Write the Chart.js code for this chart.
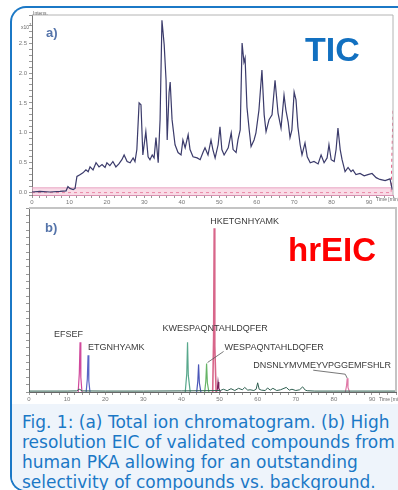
<!DOCTYPE html>
<html>
<head>
<meta charset="utf-8">
<title>TIC and hrEIC of human PKA</title>
<script src="https://cdn.jsdelivr.net/npm/chart.js@4.4.1/dist/chart.umd.min.js"></script>
<style>
  body { margin: 0; width: 398px; height: 490px; overflow: hidden; background: #fff; position: relative; font-family: 'Liberation Sans', Arial, sans-serif; }
  #frame { position: absolute; left: 10px; top: 6px; width: 400px; height: 486px; border: 2px solid #1b78c6; border-right: none; border-radius: 16px 0 0 16px; box-sizing: border-box; }
  #caption { position: absolute; left: 12px; top: 404px; width: 386px; height: 86px; background: #eef4fb; border-bottom-left-radius: 14px; }
  #caption p { position: absolute; margin: 0; left: 10px; top: 8px; font-family: 'DejaVu Sans', sans-serif; font-size: 17px; line-height: 20px; color: #1b78c6; white-space: nowrap; }
  canvas { position: absolute; left: 0; }
  #tic { top: 0; }
  #eic { top: 200px; }
  .tag { position: absolute; font-weight: bold; color: #5574aa; font-size: 13px; }
  .big { position: absolute; font-weight: bold; line-height: 1; }
  .tiny { position: absolute; font-size: 5px; color: #666; white-space: nowrap; }
</style>
</head>
<body>
<div id="frame"></div>
<div id="caption"><p>Fig. 1: (a) Total ion chromatogram. (b) High<br>resolution EIC of validated compounds from<br>human PKA allowing for an outstanding<br>selectivity of compounds vs. background.</p></div>

<canvas id="tic" width="398" height="205"></canvas>
<canvas id="eic" width="398" height="206"></canvas>

<div class="tag" style="left:46px; top:25px;">a)</div>
<div class="tag" style="left:45px; top:220px;">b)</div>
<div class="big" style="left:305px; top:32px; font-size:34px; color:#1270c0;">TIC</div>
<div class="big" style="left:288px; top:233px; font-size:33px; color:#ff0000;">hrEIC</div>
<div class="tiny" style="left:33px; top:10px;">Intens.</div>
<div class="tiny" style="left:21px; top:22px;">x10<sup>7</sup></div>
<div class="tiny" style="left:376px; top:196px;">Time [min]</div>
<div class="tiny" style="left:379px; top:396px;">Time [min]</div>

<script>
//TIC trace (a), intensity in x10^7
let ticTimes = [0, 2.1, 4.8, 7.5, 9.1, 9.6, 10.1, 11.0, 11.5, 12.0,
  12.8, 13.6, 14.4, 15.0, 15.5, 16.3, 17.1, 17.9, 18.7, 19.5,
  20.0, 20.8, 21.6, 22.4, 23.2, 24.0, 24.6, 25.4, 26.2, 27.0,
  27.5, 28.0, 28.6, 29.1, 29.6, 30.4, 31.0, 31.5, 32.1, 32.6,
  33.1, 33.7, 34.2, 34.7, 35.3, 35.8, 36.1, 36.6, 36.9, 37.4,
  38.2, 39.0, 39.8, 40.3, 40.9, 41.7, 42.2, 43.0, 44.1, 44.9,
  45.7, 46.2, 47.0, 47.8, 48.3, 48.9, 49.7, 50.2, 50.7, 51.3,
  52.4, 53.2, 53.7, 54.5, 55.0, 55.6, 56.1, 56.6, 56.9, 57.4,
  58.0, 58.5, 59.3, 59.8, 60.6, 61.4, 62.0, 62.5, 63.3, 64.1,
  64.9, 65.7, 66.5, 67.3, 67.8, 68.4, 68.9, 69.4, 70.0, 70.5,
  71.0, 71.6, 72.1, 72.9, 73.5, 74.3, 75.3, 76.4, 77.2, 78.0,
  78.8, 79.3, 79.9, 80.7, 81.2, 81.7, 82.3, 82.8, 83.6, 84.4,
  85.2, 85.7, 86.5, 87.6, 88.7, 89.7, 90.8, 91.9, 92.9, 94.3,
  95.6, 96.2];
let ticIntensity = [0.01, 0.02, 0.01, 0.02, 0.03, 0.10, 0.07, 0.05, 0.07, 0.27,
  0.30, 0.33, 0.38, 0.35, 0.43, 0.38, 0.50, 0.43, 0.47, 0.42,
  0.50, 0.45, 0.52, 0.43, 0.48, 0.55, 0.63, 0.52, 0.50, 0.58,
  0.52, 0.72, 1.50, 1.47, 0.63, 1.02, 0.60, 0.55, 0.63, 0.58,
  0.92, 0.50, 1.22, 2.88, 2.47, 1.88, 0.88, 1.67, 1.85, 1.22,
  0.80, 0.67, 0.63, 0.88, 0.75, 0.97, 0.72, 0.60, 0.58, 0.55,
  0.68, 0.75, 0.63, 0.88, 0.72, 0.58, 0.80, 1.10, 0.72, 0.63,
  0.75, 1.00, 0.72, 0.67, 0.88, 1.05, 2.50, 2.18, 2.25, 1.43,
  1.05, 0.77, 0.88, 1.00, 1.38, 2.05, 1.30, 1.02, 1.22, 1.30,
  1.88, 1.33, 1.08, 1.63, 1.38, 1.18, 0.92, 1.05, 1.68, 1.55,
  1.10, 0.80, 0.63, 0.83, 0.60, 0.50, 0.52, 0.48, 0.63, 0.50,
  0.58, 0.80, 0.55, 0.52, 0.72, 1.08, 0.72, 0.55, 0.35, 0.42,
  0.35, 0.38, 0.30, 0.32, 0.28, 0.30, 0.32, 0.25, 0.22, 0.20,
  0.23, 0.05];

//second (red) trace of panel a
let refTimes = [0, 95.9, 96.4];
let refIntensity = [0, 0, 1.4];
let bandLevel = 0.08;

//hrEIC peaks (b), relative intensity
let peptides = ['EFSEF', 'ETGNHYAMK', 'KWESPAQNTAHLDQFER', '', 'WESPAQNTAHLDQFER', 'HKETGNHYAMK', '', 'DNSNLYMVMEYVPGGEMFSHLR'];
let peakTimes = [
  [12.9, 13.2, 13.4, 13.6, 13.9],
  [15.0, 15.3, 15.5, 15.7, 16.0],
  [41.0, 41.4, 41.6, 41.8, 42.3],
  [44.0, 44.3, 44.5, 44.7, 45.1],
  [46.1, 46.4, 46.6, 46.8, 47.2],
  [48.2, 48.45, 48.6, 48.75, 49.1],
  [49.2, 49.45, 49.6, 49.8, 50.2],
  [83.0, 83.3, 83.5, 83.7, 84.1]
];
let peakHeights = [
  [0, 10, 27, 8, 0],
  [0, 7, 20, 6, 0],
  [0, 10, 27, 9, 0],
  [0, 6, 15, 5, 0],
  [0, 6, 15.5, 5, 0],
  [0, 30, 89, 25, 0],
  [0, 2, 5.5, 2, 0],
  [0, 3, 7.5, 2.5, 0]
];
let baseTimes = [0, 10, 12.5, 13.2, 14, 20, 30, 40, 50.2, 51, 52, 53, 54, 55, 56, 56.6, 57.4, 58, 59, 59.6, 60, 60.4, 61, 62, 62.6, 63.3, 64, 65, 66, 67.5, 68.3, 69, 70, 71, 71.8, 72.5, 73, 75, 80, 90, 96.3];
let baseHeights = [0.5, 0.5, 0.6, 1.5, 0.6, 0.5, 0.5, 0.6, 0.8, 1.5, 0.7, 1.8, 0.8, 2.0, 1.2, 2.5, 1.0, 1.2, 0.8, 1.5, 5.0, 1.5, 1.0, 0.8, 2.2, 1.0, 2.0, 0.8, 1.2, 2.5, 1.0, 1.5, 0.8, 1.2, 2.8, 1.0, 0.7, 0.5, 0.5, 0.5, 0.5];

//styles kept apart from the data
let peakColors = ['#d0489c', '#5a66c6', '#58a88c', '#4a56b8', '#66b466', '#d8668a', '#7a1f5a', '#e07aa8'];
let labelOffsets = [[-26, -8], [0, -8], [-25, -14], null, [18, -16], [-4, -7], null, [-94, -13]];
let leaderLines = [null, null, null, null, [[1, -1], [17, -12]], null, null, [[-34, -8], [-2, -4], [0, 0]]];

function toPoints(xs, ys) {
  let pts = [];
  for (let i = 0; i < xs.length; i++) {
    pts.push({ x: xs[i], y: ys[i] });
  }
  return pts;
}

function tickEvery(step) {
  return function (v) {
    let r = Math.round(v / step);
    return Math.abs(v / step - r) < 0.001 ? String(v) : '';
  };
}

//gray frame on top/right of the plot area
let panelFrame = {
  id: 'panelFrame',
  afterDraw(chart, args, opts) {
    let a = chart.chartArea;
    let c = chart.ctx;
    c.save();
    c.strokeStyle = opts.color;
    c.lineWidth = opts.width;
    c.beginPath();
    c.moveTo(a.left, a.top);
    c.lineTo(a.right, a.top);
    c.lineTo(a.right, a.bottom);
    c.stroke();
    c.restore();
  }
};

//peptide names next to their peaks
let peakLabels = {
  id: 'peakLabels',
  afterDatasetsDraw(chart) {
    let c = chart.ctx;
    let xs = chart.scales.x;
    let ys = chart.scales.y;
    c.save();
    c.font = '9px "Liberation Sans", Arial, sans-serif';
    c.fillStyle = '#3a3a3a';
    c.textBaseline = 'middle';
    c.strokeStyle = '#555';
    c.lineWidth = 0.8;
    for (let i = 0; i < peptides.length; i++) {
      let top = peakHeights[i].indexOf(Math.max(...peakHeights[i]));
      let px = xs.getPixelForValue(peakTimes[i][top]);
      let py = ys.getPixelForValue(peakHeights[i][top]);
      if (labelOffsets[i]) {
        c.fillText(peptides[i], px + labelOffsets[i][0], py + labelOffsets[i][1]);
      }
      if (leaderLines[i]) {
        c.beginPath();
        leaderLines[i].forEach(function (p, k) {
          if (k === 0) c.moveTo(px + p[0], py + p[1]);
          else c.lineTo(px + p[0], py + p[1]);
        });
        c.stroke();
      }
    }
    c.restore();
  }
};

let tinyFont = { size: 6, family: 'Liberation Sans' };

//Panel a
new Chart(document.getElementById('tic'), {
  type: 'line',
  data: {
    datasets: [
      { data: toPoints(ticTimes, ticIntensity), borderColor: '#3b3b6b', borderWidth: 1.2, pointRadius: 0 },
      { data: toPoints([0, 96.4], [bandLevel, bandLevel]), borderColor: '#eaa6c4', backgroundColor: 'rgba(244,186,208,0.5)', fill: 'start', borderWidth: 1, pointRadius: 0 },
      { data: toPoints(refTimes, refIntensity), borderColor: '#e0507a', borderDash: [3, 3], borderWidth: 1, pointRadius: 0 }
    ]
  },
  options: {
    responsive: false,
    animation: false,
    layout: { padding: { left: 10, right: 5, top: 15, bottom: 0 } },
    plugins: { legend: { display: false }, tooltip: { enabled: false }, panelFrame: { color: '#b4b4b4', width: 1 } },
    scales: {
      x: {
        type: 'linear', min: 0, max: 96.4,
        afterFit: function (s) { s.height = 10; },
        border: { color: '#d890b0', dash: [3, 2] },
        grid: { drawOnChartArea: false, tickLength: 3, color: '#999' },
        ticks: { stepSize: 2, autoSkip: false, maxRotation: 0, padding: 1, font: tinyFont, color: '#777', callback: tickEvery(10) }
      },
      y: {
        min: -0.04, max: 2.97,
        afterFit: function (s) { s.width = 22; },
        //Chart.js drops the 0 tick when it sits this close to min, so put it back
        afterBuildTicks: function (s) {
          if (!s.ticks.some(function (t) { return t.value === 0; })) {
            s.ticks.splice(1, 0, { value: 0 });
          }
        },
        border: { color: '#777' },
        grid: { drawOnChartArea: false, tickLength: 3, color: '#999' },
        ticks: {
          stepSize: 0.1, autoSkip: false, padding: 2, font: tinyFont, color: '#777',
          callback: function (v) {
            let r = Math.round(v * 2);
            return Math.abs(v * 2 - r) < 0.001 ? (r / 2).toFixed(1) : '';
          }
        }
      }
    }
  },
  plugins: [panelFrame]
});

//Panel b
let eicSets = [{ data: toPoints(baseTimes, baseHeights), borderColor: '#2f5f50', borderWidth: 1, pointRadius: 0 }];
for (let i = 0; i < peptides.length; i++) {
  eicSets.push({ data: toPoints(peakTimes[i], peakHeights[i]), borderColor: peakColors[i], borderWidth: i === 5 ? 1.6 : 1.2, pointRadius: 0 });
}

new Chart(document.getElementById('eic'), {
  type: 'line',
  data: { datasets: eicSets },
  options: {
    responsive: false,
    animation: false,
    layout: { padding: { left: 10, right: 2, top: 8, bottom: 2 } },
    plugins: { legend: { display: false }, tooltip: { enabled: false }, panelFrame: { color: '#c4c4c4', width: 2 } },
    scales: {
      x: {
        type: 'linear', min: 0, max: 96.3,
        afterFit: function (s) { s.height = 12; },
        border: { color: '#666', dash: [3, 2] },
        grid: { drawOnChartArea: false, tickLength: 3, color: '#999' },
        ticks: { stepSize: 2, autoSkip: false, maxRotation: 0, padding: 1, font: tinyFont, color: '#777', callback: tickEvery(10) }
      },
      y: {
        min: 0, max: 100,
        afterFit: function (s) { s.width = 19; },
        border: { color: '#777' },
        grid: { drawOnChartArea: false, tickLength: 3, color: '#999' },
        ticks: { stepSize: 4, autoSkip: false, font: tinyFont, callback: function () { return ''; } }
      }
    }
  },
  plugins: [panelFrame, peakLabels]
});
</script>
</body>
</html>
